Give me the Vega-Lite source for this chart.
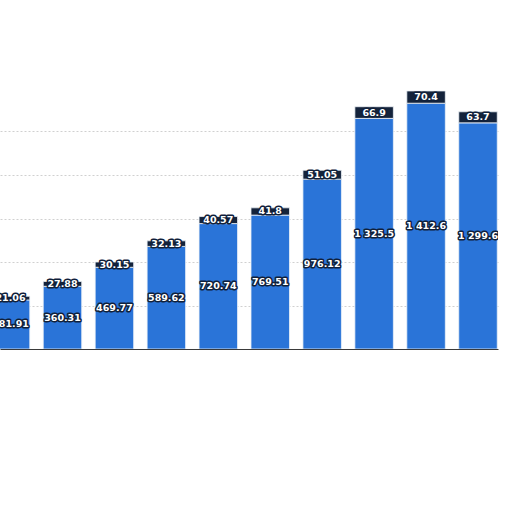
{
  "$schema": "https://vega.github.io/schema/vega-lite/v6.json",
  "autosize": {"type": "none"},
  "width": 498,
  "height": 261,
  "padding": {"left": 0, "top": 88, "right": 14, "bottom": 163},
  "background": "white",
  "config": {
    "view": {"stroke": null},
    "locale": {"number": {"decimal": ".", "thousands": " ", "grouping": [3], "currency": ["", ""]}}
  },
  "data": {
    "values": [
      {"year": 2012, "consumption": 281.91, "growth": 21.06},
      {"year": 2013, "consumption": 360.31, "growth": 27.88},
      {"year": 2014, "consumption": 469.77, "growth": 30.15},
      {"year": 2015, "consumption": 589.62, "growth": 32.13},
      {"year": 2016, "consumption": 720.74, "growth": 40.57},
      {"year": 2017, "consumption": 769.51, "growth": 41.8},
      {"year": 2018, "consumption": 976.12, "growth": 51.05},
      {"year": 2019, "consumption": 1325.5, "growth": 66.9},
      {"year": 2020, "consumption": 1412.6, "growth": 70.4},
      {"year": 2021, "consumption": 1299.6, "growth": 63.7}
    ]
  },
  "transform": [
    {"fold": ["consumption", "growth"], "as": ["part", "amount"]},
    {"stack": "amount", "groupby": ["year"], "sort": [{"field": "part", "order": "ascending"}], "as": ["lo", "hi"]}
  ],
  "layer": [
    {
      "mark": {"type": "bar", "width": 38.5, "clip": true, "stroke": "#eef2f7", "strokeWidth": 0.8},
      "encoding": {
        "x": {
          "field": "year",
          "type": "quantitative",
          "scale": {"domain": [2011.797, 2021.385], "nice": false, "zero": false, "padding": 0},
          "axis": {"grid": false, "labels": false, "ticks": false, "title": null, "domainColor": "#3a3a3a", "domainWidth": 1.2}
        },
        "y": {
          "field": "lo",
          "type": "quantitative",
          "scale": {"domain": [0, 1500], "nice": false},
          "axis": {"values": [250, 500, 750, 1000, 1250], "labels": false, "ticks": false, "domain": false, "title": null, "gridColor": "#d0d0d0", "gridDash": [2, 2], "gridWidth": 1}
        },
        "y2": {"field": "hi"},
        "color": {
          "field": "part",
          "type": "nominal",
          "scale": {"domain": ["consumption", "growth"], "range": ["#2a74d8", "#14233b"]},
          "legend": null
        }
      }
    },
    {
      "transform": [
        {"stack": "hi", "groupby": ["year"], "sort": [{"field": "part", "order": "ascending"}], "as": ["s0", "mid2"]}
      ],
      "encoding": {
        "x": {"field": "year", "type": "quantitative"},
        "y": {"field": "mid2", "type": "quantitative", "stack": null, "scale": {"domain": [0, 3000], "nice": false}, "axis": null},
        "text": {"field": "amount", "type": "quantitative", "format": ",.2~f"}
      },
      "layer": [
        {
          "mark": {"type": "text", "font": "DejaVu Sans", "fontWeight": "bold", "fontSize": 9.5, "baseline": "middle", "fill": "#10203a", "stroke": "#10203a", "strokeWidth": 3, "strokeJoin": "round", "clip": true}
        },
        {
          "mark": {"type": "text", "font": "DejaVu Sans", "fontWeight": "bold", "fontSize": 9.5, "baseline": "middle", "fill": "white", "clip": true}
        }
      ]
    }
  ],
  "resolve": {"scale": {"y": "independent"}}
}
